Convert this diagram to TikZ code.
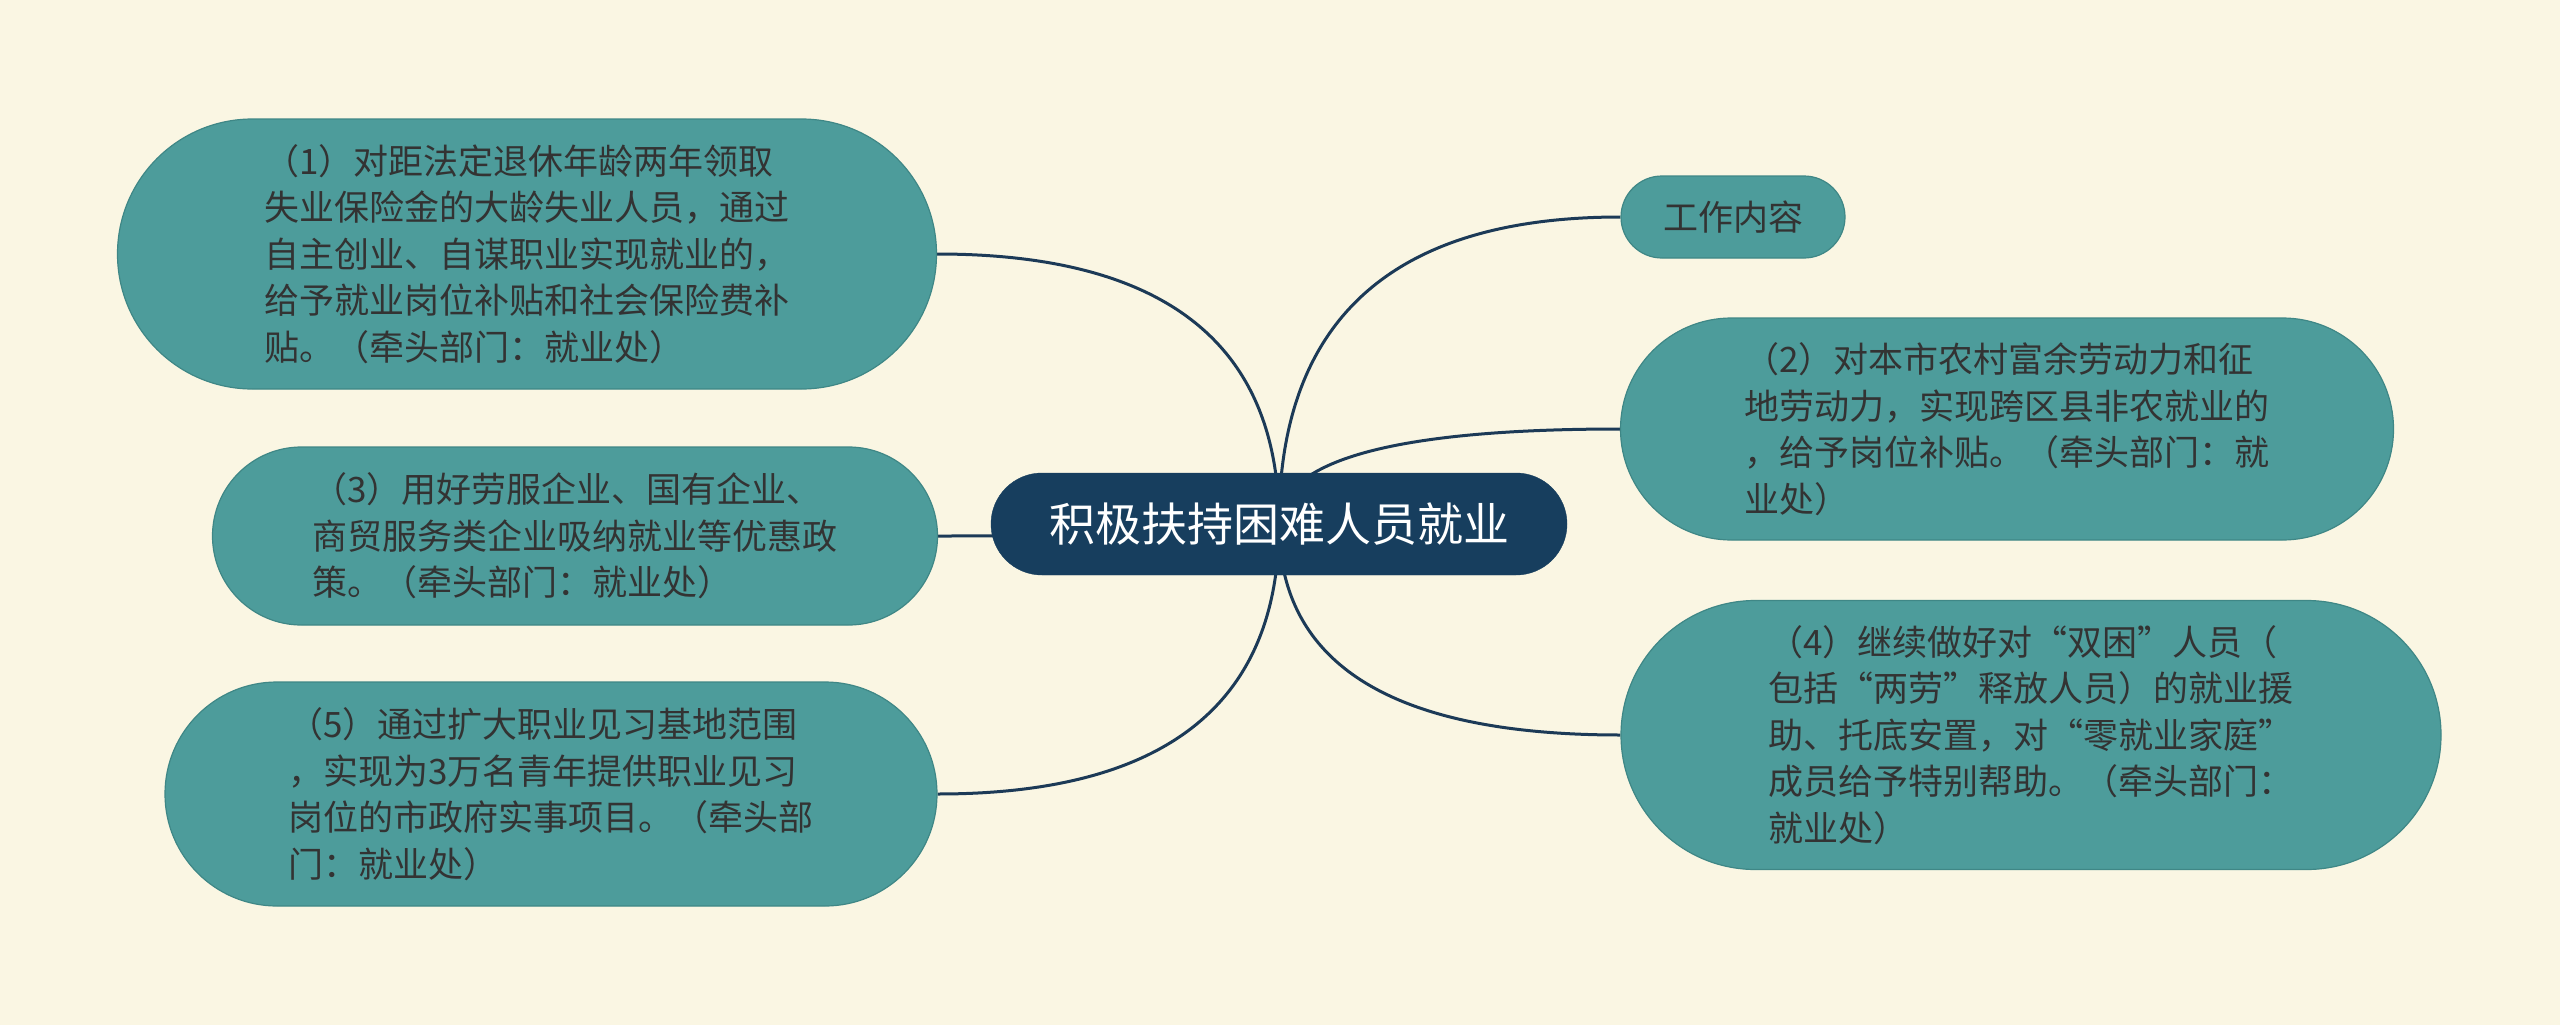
\documentclass[tikz,border=0pt]{standalone}
\usepackage{fontspec}
\setmainfont{Noto Sans CJK SC}
\usetikzlibrary{calc}
\definecolor{bg}{HTML}{FAF6E3}
\definecolor{tealfill}{HTML}{4D9C9B}
\definecolor{tealedge}{HTML}{3F8786}
\definecolor{navy}{HTML}{173E5E}
\definecolor{linec}{HTML}{1C3A57}
\definecolor{txt}{HTML}{333333}
\pgfdeclarelayer{bottom}
\pgfdeclarelayer{background}
\pgfsetlayers{bottom,background,main}
\begin{document}
\begin{tikzpicture}[x=1pt,y=-1pt,
  leaf/.style={fill=tealfill, draw=tealedge, line width=1.2pt, text=txt, align=left,
    inner sep=0pt, font=\fontsize{35}{46.5}\selectfont},
  rootbox/.style={fill=navy, draw=navy, text=white, inner sep=0pt,
    font=\fontsize{46}{50}\selectfont, minimum width=576pt, minimum height=102pt,
    rounded corners=51pt},
  link/.style={draw=linec, line width=3pt}]
\begin{pgfonlayer}{bottom}
\fill[bg] (0,0) rectangle (2560,1025);
\end{pgfonlayer}
\useasboundingbox (0,0) rectangle (2560,1025);

\node[rootbox] (root) at (1279,524) {积极扶持困难人员就业};

\node[leaf, minimum width=819pt, minimum height=270pt, rounded corners=135pt] (n1) at (527,254)
 {（1）对距法定退休年龄两年领取\\失业保险金的大龄失业人员，通过\\自主创业、自谋职业实现就业的，\\给予就业岗位补贴和社会保险费补\\贴。（牵头部门：就业处）};
\node[leaf, minimum width=725pt, minimum height=178pt, rounded corners=89pt] (n3) at (575,536)
 {（3）用好劳服企业、国有企业、\\商贸服务类企业吸纳就业等优惠政\\策。（牵头部门：就业处）};
\node[leaf, minimum width=772pt, minimum height=224pt, rounded corners=112pt] (n5) at (551,794)
 {（5）通过扩大职业见习基地范围\\，实现为3万名青年提供职业见习\\岗位的市政府实事项目。（牵头部\\门：就业处）};
\node[leaf, minimum width=224pt, minimum height=82pt, rounded corners=41pt] (w) at (1733,217)
 {工作内容};
\node[leaf, minimum width=773pt, minimum height=222pt, rounded corners=111pt] (n2) at (2007,429)
 {（2）对本市农村富余劳动力和征\\地劳动力，实现跨区县非农就业的\\，给予岗位补贴。（牵头部门：就\\业处）};
\node[leaf, minimum width=820pt, minimum height=269pt, rounded corners=134.5pt] (n4) at (2031,735)
 {（4）继续做好对“双困”人员（\\包括“两劳”释放人员）的就业援\\助、托底安置，对“零就业家庭”\\成员给予特别帮助。（牵头部门：\\就业处）};

\begin{pgfonlayer}{background}
\foreach \n/\a in {n1/east, n3/east, n5/east, w/west, n2/west, n4/west} {
  \coordinate (k\n) at (root.center |- \n.\a);
  \draw[link] (\n.\a) .. controls ($(\n.\a)!0.6667!(k\n)$) and ($(root.center)!0.6667!(k\n)$) .. (root.center);
}
\end{pgfonlayer}
\end{tikzpicture}
\end{document}
